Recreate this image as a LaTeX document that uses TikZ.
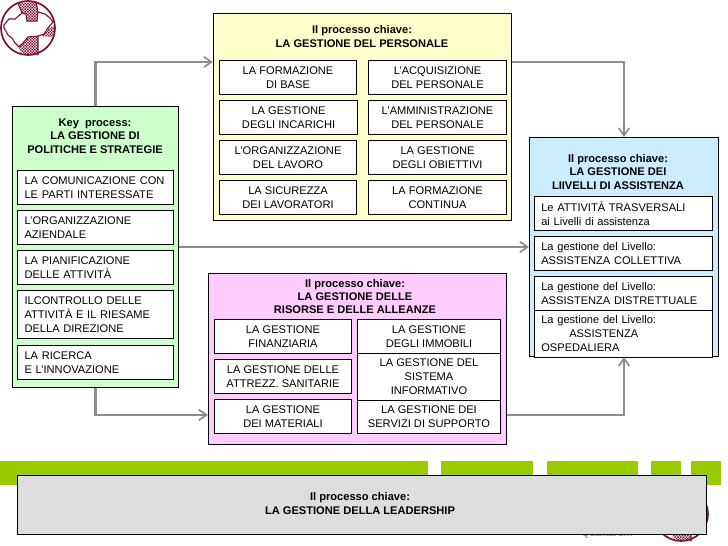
\documentclass[tikz,border=0pt]{standalone}
\usepackage{fontspec}
\setmainfont{Liberation Sans}
\usetikzlibrary{arrows.meta}
\definecolor{logored}{HTML}{7F1034}
\definecolor{flowgray}{HTML}{8C8C8C}
\definecolor{bannergreen}{HTML}{99CC00}
\definecolor{leadgray}{HTML}{DDDDDD}
\definecolor{keygreen}{HTML}{CCFFCC}
\definecolor{persyellow}{HTML}{FFFFCC}
\definecolor{rispink}{HTML}{FFCCFF}
\definecolor{livblue}{HTML}{CCECFF}
\tikzset{
  procbox/.style={draw=black,line width=0.9pt,anchor=north west,inner sep=0pt,xshift=-0.45pt,yshift=0.45pt},
  itembox/.style={draw=black,fill=white,line width=0.9pt,anchor=north west,inner ysep=0pt,inner xsep=0pt,align=center,xshift=-0.45pt,yshift=0.45pt,font=\fontsize{11.1}{14}\selectfont},
  leftbox/.style={itembox,align=left,inner xsep=7pt},
  titlelabel/.style={align=center,inner sep=0pt,font=\fontsize{11.1}{13.3}\selectfont\bfseries},
  flow/.style={draw=flowgray,line width=2.2pt,-{Straight Barb[length=7.5pt,width=10.5pt,line width=1.7pt]}},
}
\newcommand{\logomark}[2]{%
  \begin{scope}[shift={(#1,#2)}]
  \fill[white] (0,0) circle (27);
  \begin{scope}
  \clip (-10,-25) -- (8,-26) -- (10,-16) -- (9,-7) -- (-1,-7) -- (-2,-14) -- (-6,-15) -- cycle
    (-9,19) -- (-4,14) -- (0,9) -- (10,8) -- (10,27) -- (0,27) -- (-8,24) -- cycle
    (12,8) -- (16,6) -- (20,0) -- (26,-2) -- (27,4) -- (24,9) -- cycle;
  \foreach \gx in {-12,-9.2,...,28} \foreach \gy in {-28,-25.2,...,28}
    \fill[logored] (\gx,\gy) rectangle ++(1.4,1.4) (\gx+1.4,\gy+1.4) rectangle ++(1.4,1.4);
  \end{scope}
  \draw[logored,line width=1.1pt] (-24,-3) -- (-19,-9) -- (-13,-9) -- (-6,-15) -- (-2,-14) -- (-1,-7) -- (9,-7) -- (10,-16) -- (17,-14) -- (22,-10) -- (25,-6) -- (20,0) -- (16,6) -- (10,8) -- (0,9) -- (-4,14) -- (-9,19) -- (-13,15) -- (-16,10) -- (-20,7) -- (-24,0) -- cycle;
  \draw[logored,line width=1.1pt] (10,8) -- (10,27) (8,-26) -- (10,-16) (-6,-15) -- (-10,-25);
  \draw[logored,line width=1.7pt] (0,0) circle (27);
  \end{scope}}
\begin{document}
\begin{tikzpicture}[x=1pt,y=-1pt]
\useasboundingbox (0,0) rectangle (728,546);
\def\boxh{34pt}

% banner and what the grey box covers
\fill[bannergreen] (0,461) rectangle (428,485);
\fill[bannergreen] (441,461) rectangle (533,485);
\fill[bannergreen] (547,461) rectangle (638,485);
\fill[bannergreen] (651,461) rectangle (681,485);
\fill[bannergreen] (691,461) rectangle (721,485);
\logomark{28}{28}
\logomark{681}{514}
\node[text=gray,inner sep=0pt,font=\fontsize{10.4}{13}\selectfont] (brandtext) at (607,534) {Qualitarum};
\node[procbox,fill=leadgray,minimum width=689pt,minimum height=59.5pt] (leadbox) at (17.5,475) {};
\node[titlelabel] (leadtitle) at (360,503.4) {Il processo chiave:\\LA GESTIONE DELLA LEADERSHIP};

% key process
\node[procbox,fill=keygreen,minimum width=166pt,minimum height=281pt] (keybox) at (12.5,106.5) {};
\node[titlelabel] (keytitle) at (95,136) {Key\ \ process:\\LA GESTIONE DI\\POLITICHE E STRATEGIE};
\node[leftbox,text width=142pt,minimum height=\boxh] (keya) at (17.5,170.3) {LA COMUNICAZIONE CON\\LE PARTI INTERESSATE};
\node[leftbox,text width=142pt,minimum height=\boxh] (keyb) at (17.5,210.3) {L’ORGANIZZAZIONE\\AZIENDALE};
\node[leftbox,text width=142pt,minimum height=\boxh] (keyc) at (17.5,250.3) {LA PIANIFICAZIONE\\DELLE ATTIVITÀ};
\node[leftbox,text width=142pt,minimum height=48pt] (keyd) at (17.5,290.3) {ILCONTROLLO DELLE\\ATTIVITÀ E IL RIESAME\\DELLA DIREZIONE};
\node[leftbox,text width=142pt,minimum height=\boxh] (keye) at (17.5,345.3) {LA RICERCA\\E L’INNOVAZIONE};

% personale
\node[procbox,fill=persyellow,minimum width=298pt,minimum height=207pt] (persbox) at (213.3,13.3) {};
\node[titlelabel] (perstitle) at (362,36.6) {Il processo chiave:\\LA GESTIONE DEL PERSONALE};
\node[itembox,minimum width=137.5pt,minimum height=\boxh] (persa) at (219.3,60.3) {LA FORMAZIONE\\DI BASE};
\node[itembox,minimum width=138.5pt,minimum height=\boxh] (persb) at (368.3,60.3) {L’ACQUISIZIONE\\DEL PERSONALE};
\node[itembox,minimum width=138.5pt,minimum height=\boxh] (persc) at (219.3,100.3) {LA GESTIONE\\DEGLI INCARICHI};
\node[itembox,minimum width=138.5pt,minimum height=\boxh] (persd) at (368.3,100.3) {L’AMMINISTRAZIONE\\DEL PERSONALE};
\node[itembox,minimum width=137.5pt,minimum height=\boxh] (perse) at (219.3,140.3) {L’ORGANIZZAZIONE\\DEL LAVORO};
\node[itembox,minimum width=138.5pt,minimum height=\boxh] (persf) at (368.3,140.3) {LA GESTIONE\\DEGLI OBIETTIVI};
\node[itembox,minimum width=137.5pt,minimum height=\boxh] (persg) at (219.3,180.3) {LA SICUREZZA\\DEI LAVORATORI};
\node[itembox,minimum width=138.5pt,minimum height=\boxh] (persh) at (368.3,180.3) {LA FORMAZIONE\\CONTINUA};

% risorse
\node[procbox,fill=rispink,minimum width=298pt,minimum height=171.4pt] (risbox) at (208.3,273.3) {};
\node[titlelabel] (ristitle) at (355,296.4) {Il processo chiave:\\LA GESTIONE DELLE\\RISORSE E DELLE ALLEANZE};
\node[itembox,minimum width=137.4pt,minimum height=\boxh] (risa) at (214.3,319.3) {LA GESTIONE\\FINANZIARIA};
\node[itembox,minimum width=143.4pt,minimum height=\boxh] (risb) at (357.3,319.3) {LA GESTIONE\\DEGLI IMMOBILI};
\node[itembox,minimum width=137.4pt,minimum height=\boxh] (risc) at (214.3,359.3) {LA GESTIONE DELLE\\ATTREZZ. SANITARIE};
\node[itembox,minimum width=143.4pt,minimum height=47pt] (risd) at (357.3,353.3) {LA GESTIONE DEL\\SISTEMA\\INFORMATIVO};
\node[itembox,minimum width=137.4pt,minimum height=\boxh] (rise) at (214.3,399.3) {LA GESTIONE\\DEI MATERIALI};
\node[itembox,minimum width=143.4pt,minimum height=33pt] (risf) at (357.3,400.3) {LA GESTIONE DEI\\SERVIZI DI SUPPORTO};

% livelli
\node[procbox,fill=livblue,minimum width=189.4pt,minimum height=218.7pt] (livbox) at (529.3,137.3) {};
\node[titlelabel] (livtitle) at (618,172) {Il processo chiave:\\LA GESTIONE DEI\\LIIVELLI DI ASSISTENZA};
\node[leftbox,text width=164.4pt,minimum height=\boxh] (liva) at (534.3,196.3) {Le ATTIVITÀ TRASVERSALI\\ai Livelli di assistenza};
\node[leftbox,text width=164.4pt,minimum height=\boxh] (livb) at (534.3,236.3) {La gestione del Livello:\\ASSISTENZA COLLETTIVA};
\node[leftbox,text width=164.4pt,minimum height=\boxh] (livc) at (534.3,276.3) {La gestione del Livello:\\ASSISTENZA DISTRETTUALE};
\node[leftbox,text width=164.4pt,minimum height=47pt] (livd) at (534.3,310.3) {La gestione del Livello:\\\hspace*{28pt}ASSISTENZA\\OSPEDALIERA};

% free ends of the connectors
\coordinate (persin) at (persbox.west |- 0,62);
\coordinate (persout) at (persbox.east |- 0,62);
\coordinate (livtop) at (624,137);
\coordinate (livbottom) at (624,357);
\coordinate (livin) at (livbox.west |- 0,247);
\coordinate (keyout) at (keybox.east |- 0,247);
\coordinate (risin) at (risbox.west |- 0,415);
\coordinate (risout) at (risbox.east |- 0,415);

\draw[flow] (keybox.north) |- (persin);
\draw[flow] (persout) -| (livtop);
\draw[flow] (keyout) -- (livin);
\draw[flow] (keybox.south) |- (risin);
\draw[flow] (risout) -| (livbottom);
\end{tikzpicture}
\end{document}
